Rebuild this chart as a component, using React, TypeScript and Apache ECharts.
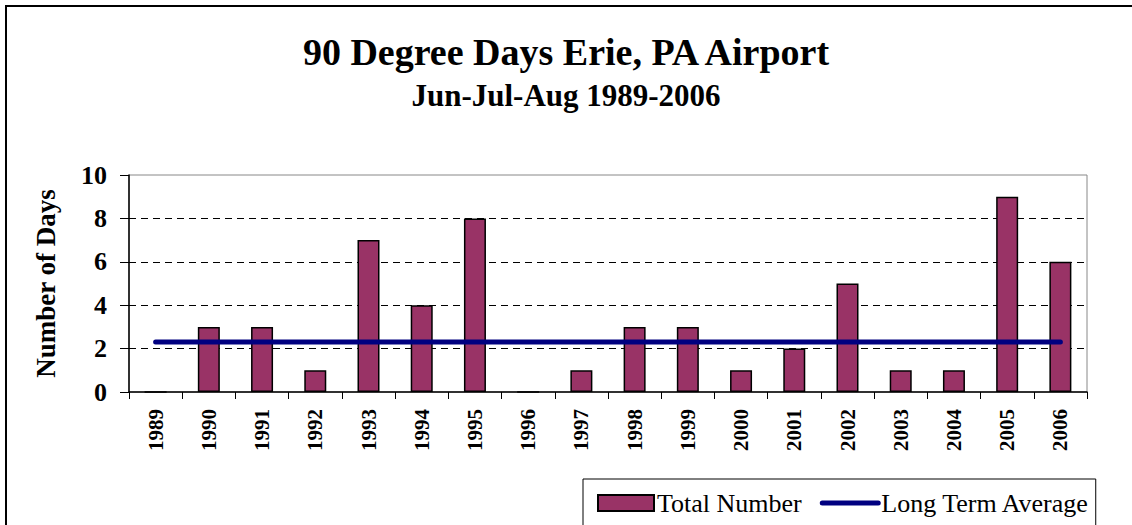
import React, { useEffect, useRef } from "react";
import * as echarts from "echarts";

const years = ["1989","1990","1991","1992","1993","1994","1995","1996","1997","1998","1999","2000","2001","2002","2003","2004","2005","2006"];
const totalNumber = [0, 3, 3, 1, 7, 4, 8, 0, 1, 3, 3, 1, 2, 5, 1, 1, 9, 6];
const longTermAverage = [2.3, 2.3, 2.3, 2.3, 2.3, 2.3, 2.3, 2.3, 2.3, 2.3, 2.3, 2.3, 2.3, 2.3, 2.3, 2.3, 2.3, 2.3];
const yTicks = { min: 0, max: 10, interval: 2 };

const FONT = '"Liberation Serif", "Times New Roman", serif';

export default function App() {
  const ref = useRef<HTMLDivElement>(null);
  useEffect(() => {
    document.body.style.margin = "0";
    const chart = echarts.init(ref.current!, null, { renderer: "svg" });
    chart.setOption({
      animation: false,
      backgroundColor: "#fff",
      textStyle: { fontFamily: FONT },
      title: {
        text: "90 Degree Days Erie, PA Airport",
        subtext: "Jun-Jul-Aug 1989-2006",
        left: "center",
        top: 28,
        itemGap: 9,
        textStyle: { fontFamily: FONT, fontWeight: "bold", fontSize: 38, color: "#000" },
        subtextStyle: { fontFamily: FONT, fontWeight: "bold", fontSize: 31, color: "#000" },
      },
      graphic: [
        {
          type: "rect",
          shape: { x: 6, y: 6, width: 1200, height: 600 },
          style: { fill: "none", stroke: "#000", lineWidth: 2 },
          silent: true,
          z: 100,
        },
      ],
      legend: {
        left: 583,
        top: 479,
        width: 524,
        orient: "horizontal",
        borderColor: "#000",
        borderWidth: 1,
        padding: [11, 6, 11, 14],
        itemGap: 18,
        itemWidth: 56,
        itemHeight: 16,
        textStyle: { fontFamily: FONT, fontSize: 26, color: "#000", padding: [0, 0, 0, -2] },
        data: [
          { name: "Total Number", icon: "rect" },
          {
            name: "Long Term Average",
            itemStyle: { opacity: 0 },
            lineStyle: { width: 5, cap: "round", color: "#000080" },
          },
        ],
      },
      grid: {
        left: 129,
        top: 175,
        right: 45,
        bottom: 133,
        show: true,
        borderColor: "#888",
        borderWidth: 1,
        backgroundColor: "#fff",
      },
      xAxis: {
        type: "category",
        data: years,
        boundaryGap: true,
        axisLine: { lineStyle: { color: "#000", width: 1.5 } },
        axisTick: { show: true, length: 7, interval: 0, alignWithLabel: false, lineStyle: { color: "#000" } },
        axisLabel: {
          rotate: 90,
          interval: 0,
          margin: 17,
          fontFamily: FONT,
          fontWeight: "bold",
          fontSize: 21,
          color: "#000",
        },
      },
      yAxis: {
        type: "value",
        min: yTicks.min,
        max: yTicks.max,
        interval: yTicks.interval,
        name: "Number of Days",
        nameLocation: "middle",
        nameGap: 70,
        nameTextStyle: { fontFamily: FONT, fontWeight: "bold", fontSize: 27, color: "#000" },
        axisLine: { show: true, lineStyle: { color: "#000", width: 1.5 } },
        axisTick: { show: true, inside: false, length: 9, lineStyle: { color: "#000" } },
        axisLabel: { margin: 22, fontFamily: FONT, fontWeight: "bold", fontSize: 26, color: "#000" },
        splitLine: {
          show: true,
          lineStyle: {
            color: ["transparent", "#000", "#000", "#000", "#000", "transparent"],
            type: [7, 5],
            width: 1,
          },
        },
      },
      series: [
        {
          name: "Total Number",
          type: "bar",
          data: totalNumber,
          barWidth: 22,
          itemStyle: { color: "#993366", borderColor: "#000", borderWidth: 1.5 },
          z: 2,
        },
        {
          name: "Long Term Average",
          type: "line",
          data: longTermAverage,
          symbol: "none",
          lineStyle: { color: "#000080", width: 5, cap: "round" },
          itemStyle: { color: "#000080" },
          z: 3,
        },
      ],
    });
    return () => chart.dispose();
  }, []);
  return <div ref={ref} style={{ width: 1132, height: 525 }} />;
}
